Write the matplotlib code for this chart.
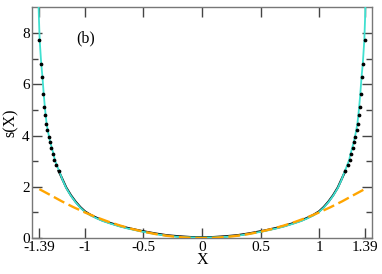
#!/usr/bin/env python
# s(X) panel (b): exact curve, simulation points and quadratic approximation

import numpy as np
import matplotlib
matplotlib.use('Agg')
import matplotlib.pyplot as plt

plt.rcParams['font.family'] = ['Liberation Serif', 'DejaVu Serif']
plt.rcParams['axes.unicode_minus'] = False

# Data (positive half, curves are symmetric in X)
#---------------------------------------------
# turquoise curve
xcurve = [0.0, 0.10, 0.20, 0.30, 0.40, 0.53, 0.64, 0.70, 0.785, 0.85, 0.90,
          0.95, 1.00, 1.04, 1.08, 1.12, 1.16, 1.19, 1.222, 1.241, 1.257,
          1.270, 1.284, 1.297, 1.307, 1.318, 1.328, 1.336, 1.343, 1.353,
          1.363, 1.374, 1.387, 1.393, 1.398, 1.401]
scurve = [0.02, 0.03, 0.05, 0.09, 0.16, 0.27, 0.38, 0.45, 0.57, 0.67, 0.77,
          0.88, 1.02, 1.19, 1.40, 1.65, 1.95, 2.25, 2.63, 2.85, 3.04,
          3.30, 3.53, 3.75, 3.95, 4.21, 4.47, 4.80, 5.12, 5.64,
          6.27, 6.81, 7.72, 8.50, 9.30, 9.80]

# black line (dense points merged into a line)
xline = [0.0, 0.10, 0.20, 0.30, 0.40, 0.53, 0.64, 0.70, 0.785, 0.85, 0.90,
         0.95, 1.00, 1.04, 1.08, 1.12, 1.16, 1.19, 1.226]
sline = [0.03, 0.04, 0.07, 0.11, 0.18, 0.29, 0.40, 0.47, 0.59, 0.69, 0.79,
         0.90, 1.04, 1.21, 1.42, 1.67, 1.97, 2.27, 2.63]

# black points that stand apart near the edges
xdots = [1.391, 1.378, 1.367, 1.357, 1.347, 1.340, 1.332, 1.322, 1.311,
         1.301, 1.288, 1.274, 1.261, 1.245, 1.226]
sdots = [7.72, 6.81, 6.27, 5.64, 5.12, 4.80, 4.47, 4.21, 3.95,
         3.75, 3.53, 3.30, 3.04, 2.85, 2.63]

# orange dashed approximation
xapprox = [0.0, 0.10, 0.20, 0.30, 0.40, 0.50, 0.60, 0.70, 0.80, 0.90, 1.00,
           1.10, 1.20, 1.30, 1.39]
sapprox = [0.0, 0.01, 0.04, 0.09, 0.16, 0.25, 0.36, 0.49, 0.64, 0.81, 1.00,
           1.21, 1.44, 1.69, 1.91]

xticks = [-1.39, -1, -0.5, 0, 0.5, 1, 1.39]
xticklabels = ['-1.39', '-1', '-0.5', '0', '0.5', '1', '1.39']
yticks = [0, 2, 4, 6, 8]


def mirror(x, y):
    x = np.asarray(x)
    y = np.asarray(y)
    return np.concatenate((-x[::-1], x)), np.concatenate((y[::-1], y))


# Plot
#---------------------------------------------
fig = plt.figure(figsize=(3.82, 2.74), dpi=100)
ax = fig.add_axes([0.0846, 0.131, 0.8884, 0.842])

xl, yl = mirror(xline, sline)
ax.plot(xl, yl, color='black', linewidth=1.6, zorder=2)

xc, yc = mirror(xcurve, scurve)
ax.plot(xc, yc, color='#40E0D0', linewidth=1.3, zorder=3)

xd, yd = mirror(xdots, sdots)
ax.plot(xd, yd, linestyle='none', marker='o', markersize=1.7,
        color='black', zorder=4)

xa, ya = mirror(xapprox, sapprox)
ax.plot(xa, ya, color='#FFA500', linewidth=1.7, dashes=(5, 2), zorder=5)

ax.set_xlim(-1.45, 1.45)
ax.set_ylim(0, 9)
ax.set_xticks(xticks)
ax.set_xticklabels(xticklabels)
ax.set_yticks(yticks)
ax.set_yticks([1, 3, 5, 7], minor=True)

ax.tick_params(which='both', direction='in', top=True, right=True,
               labelsize=11, colors='#444444', labelcolor='black')
ax.tick_params(which='major', length=7, width=1, pad=2)
ax.tick_params(which='minor', length=4, width=1)
for sp in ax.spines.values():
    sp.set_color('#777777')
    sp.set_linewidth(1)

ax.set_xlabel('X', fontsize=11.5, labelpad=-1)
ax.set_ylabel('s(X)', fontsize=11.5, labelpad=2)
ax.text(0.13, 0.85, '(b)', transform=ax.transAxes, fontsize=11.5)

fig.savefig('out.png', dpi=100)
plt.close('all')
